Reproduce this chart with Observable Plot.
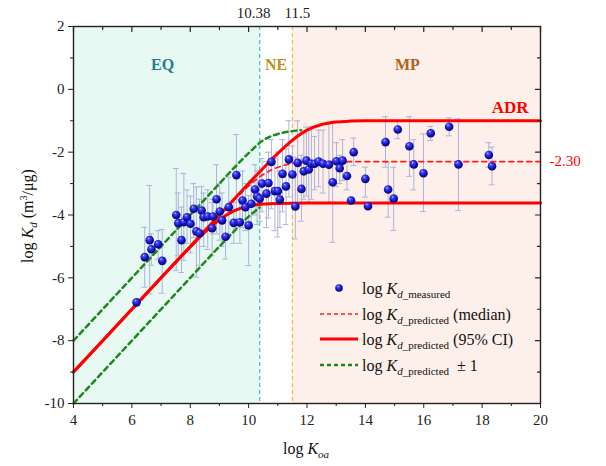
<!DOCTYPE html>
<html><head><meta charset="utf-8">
<script src="https://cdn.jsdelivr.net/npm/d3@7"></script>
<script src="https://cdn.jsdelivr.net/npm/@observablehq/plot@0.6"></script>
<style>
html,body{margin:0;padding:0;background:#fff;}
#chart{width:606px;height:466px;}
#chart svg, #chart svg text { font-family: "Liberation Serif", "DejaVu Serif", serif; }
</style></head><body><div id="chart"></div>
<script>
// ---- measured data (log Koa, log Kd measured, error bar low/high) ----
const koa = [
  6.16,6.44,6.61,6.67,6.90,7.04,7.52,7.59,7.70,7.78,
  7.89,8.01,8.12,8.21,8.32,8.39,8.46,8.60,8.75,8.78,
  8.90,9.01,9.09,9.21,9.32,9.49,9.58,9.70,9.79,9.89,
  10.00,10.09,10.22,10.29,10.38,10.46,10.61,10.68,10.78,10.90,
  11.00,11.07,11.16,11.28,11.38,11.50,11.60,11.68,11.81,11.89,
  11.98,12.06,12.15,12.26,12.40,12.55,12.75,12.88,13.01,13.12,
  13.22,13.37,13.51,13.60,14.00,14.09,14.69,14.78,14.97,15.11,
  15.51,15.66,15.99,16.24,16.87,17.19,18.23,18.34];
const kdMeasured = [
  -6.78,-5.34,-4.80,-5.09,-4.93,-5.46,-4.00,-4.26,-4.80,-4.23,
  -4.07,-4.28,-3.80,-4.52,-4.58,-3.86,-4.07,-4.05,-4.42,-4.05,
  -3.50,-3.89,-4.17,-4.69,-3.75,-4.25,-2.73,-4.23,-3.54,-3.75,
  -4.33,-3.64,-3.19,-3.41,-3.48,-3.00,-3.32,-2.98,-2.31,-3.24,
  -3.24,-3.51,-2.69,-3.09,-2.23,-2.71,-3.73,-2.34,-3.17,-2.61,
  -2.27,-2.55,-2.37,-2.37,-2.30,-2.37,-2.40,-2.96,-2.29,-2.51,
  -2.27,-2.76,-3.54,-2.00,-2.85,-3.72,-1.68,-3.19,-3.48,-1.28,
  -1.81,-2.39,-2.67,-1.40,-1.19,-2.39,-2.09,-2.45];
const kdLow = [
  null,-6.30,-6.51,-5.60,-5.40,-6.49,-5.77,-5.30,-5.83,-5.45,
  -4.90,-5.20,-4.72,-5.98,-5.60,-4.60,-5.00,-5.10,-5.30,-4.60,
  -4.60,-4.80,-5.00,-5.40,-4.70,-4.90,-4.39,-4.90,-4.40,-4.50,
  -5.61,-4.40,-4.00,-4.30,-4.20,-3.90,-4.40,-4.10,-3.80,-4.50,
  -4.70,-4.40,-3.90,-4.30,-3.43,-3.60,-4.76,-3.70,-4.20,-3.50,
  -3.40,-3.60,-3.50,-3.20,-3.10,-3.30,-3.60,-4.87,-3.10,-3.00,
  -2.90,-3.20,null,-2.43,-3.43,null,-2.48,-4.07,-4.49,-1.57,
  -2.77,-3.20,-3.89,-1.63,-1.48,-3.86,-2.48,-3.04];
const kdHigh = [
  null,-4.39,-3.06,-4.60,-4.50,-4.46,-2.52,-3.30,-3.75,-2.68,
  -3.20,-3.40,-3.00,-3.11,-3.50,-3.10,-3.30,-3.20,-3.60,-3.50,
  -2.40,-3.00,-3.30,-4.00,-2.80,-3.60,-1.44,-3.50,-2.60,-3.00,
  -3.38,-2.90,-2.40,-2.60,-2.70,-2.20,-2.30,-2.00,-1.60,-2.20,
  -2.00,-2.60,-1.60,-1.90,-1.00,-1.80,-2.16,-1.00,-2.10,-1.40,
  -1.20,-1.30,-1.20,-1.50,-1.30,-1.30,-1.10,-1.05,-1.70,-2.10,
  -1.60,-2.30,null,-1.55,-2.48,null,-0.87,-2.32,-2.48,-1.01,
  -0.87,-1.60,-1.42,-1.18,-0.91,-0.94,-1.70,-1.84];

// ---- predicted curves ----
const ciUpperX = [4,6,8,9,9.5,10,10.5,11,11.5,12,12.5,13,13.5,14,20];
const ciUpperY = [-9.0,-7.0,-5.0,-4.0,-3.5,-3.0,-2.51,-2.04,-1.62,-1.30,-1.12,-1.04,-1.01,-1.0,-1.0];
const ciLowerX = [4,6,8,8.5,9,9.5,10,10.5,11,12,20];
const ciLowerY = [-9.0,-7.0,-5.02,-4.55,-4.15,-3.87,-3.71,-3.65,-3.63,-3.62,-3.62];
const medianX = [4,8,9,9.5,10,10.5,11,11.5,12,13,20];
const medianY = [-9.0,-5.0,-4.01,-3.53,-3.08,-2.71,-2.48,-2.36,-2.32,-2.30,-2.30];
const plusOneX = [4,8,9,9.5,10,10.5,11,11.5,11.8];
const plusOneY = [-8.0,-4.0,-3.0,-2.50,-2.03,-1.62,-1.42,-1.33,-1.30];
const minusOneX = [4,8,9,9.5,10,10.38];
const minusOneY = [-10.0,-6.0,-5.0,-4.52,-4.05,-3.76];
const medianPlateau = -2.30;
const adrPlateau = -1.0;

// ---- regions / ticks ----
const regionNames = ["EQ","NE","MP"];
const regionStart = [4, 10.38, 11.5];
const regionEnd = [10.38, 11.5, 20];
const xMajor = [4,6,8,10,12,14,16,18,20];
const xMinor = [5,7,9,11,13,15,17,19];
const yMajor = [-10,-8,-6,-4,-2,0,2];
const yMinor = [-9,-7,-5,-3,-1,1];
const topLabels = [10.38, 11.5];

const meas = koa.map((x,i)=>({x, y: kdMeasured[i], lo: kdLow[i], hi: kdHigh[i]}));
const bars = meas.filter(d => d.lo != null);
const line = (xs, ys) => xs.map((x,i)=>({x, y: ys[i]}));
const regions = regionNames.map((n,i)=>({n, x1: regionStart[i], x2: regionEnd[i], mid: (regionStart[i]+regionEnd[i])/2}));

const tickShape = {draw(ctx, l){ ctx.moveTo(0,0); ctx.lineTo(0,-l); }};
const ink = "#222";
const capHalf = 0.1;
const ff = "'Liberation Serif','DejaVu Serif',serif";

const plot = Plot.plot({
  width: 606, height: 466,
  marginLeft: 73, marginRight: 66, marginTop: 26, marginBottom: 63,
  x: {domain: [4,20], label: null},
  y: {domain: [-10,2], label: null},
  color: {domain: regionNames, range: ["#e8f8f3","#ffffff","#fdefe9"]},
  style: {fontFamily: ff, fontSize: "15px", color: ink, background: "#fff"},
  marks: [
    Plot.rect(regions, {x1: "x1", x2: "x2", y1: -10, y2: 2, fill: "n"}),
    Plot.ruleX([regionStart[1]], {stroke: "#3cc8c8", strokeWidth: 1.3, strokeDasharray: "4,3"}),
    Plot.ruleX([regionStart[2]], {stroke: "#f2c444", strokeWidth: 1.3, strokeDasharray: "4,3"}),
    Plot.text(regions.filter(d=>d.n==="EQ"), {x: "mid", text: "n", frameAnchor: "top", dy: 32, dx: -4, fill: "#1f7f8f", fontWeight: "bold", fontSize: 16}),
    Plot.text(regions.filter(d=>d.n==="NE"), {x: "mid", text: "n", frameAnchor: "top", dy: 32, fill: "#c0901c", fontWeight: "bold", fontSize: 16}),
    Plot.text(regions.filter(d=>d.n==="MP"), {x: "mid", text: "n", frameAnchor: "top", dy: 32, dx: -9, fill: "#b0621c", fontWeight: "bold", fontSize: 16}),
    // error bars
    Plot.ruleX(bars, {x: "x", y1: "lo", y2: "hi", stroke: "#aeb2dc", strokeWidth: 1}),
    Plot.ruleY(bars, {y: "lo", x1: d=>d.x-capHalf, x2: d=>d.x+capHalf, stroke: "#aeb2dc", strokeWidth: 1}),
    Plot.ruleY(bars, {y: "hi", x1: d=>d.x-capHalf, x2: d=>d.x+capHalf, stroke: "#aeb2dc", strokeWidth: 1}),
    // curves
    Plot.line(line(plusOneX, plusOneY), {x: "x", y: "y", stroke: "#1a8a1a", strokeWidth: 2.5, strokeDasharray: "5,4", curve: "monotone-x"}),
    Plot.line(line(minusOneX, minusOneY), {x: "x", y: "y", stroke: "#1a8a1a", strokeWidth: 2.5, strokeDasharray: "5,4", curve: "monotone-x"}),
    Plot.line(line(medianX, medianY), {x: "x", y: "y", stroke: "#ff1a1a", strokeWidth: 1.6, strokeDasharray: "5,4", curve: "monotone-x"}),
    Plot.line(line(ciUpperX, ciUpperY), {x: "x", y: "y", stroke: "#ff0000", strokeWidth: 3, curve: "monotone-x"}),
    Plot.line(line(ciLowerX, ciLowerY), {x: "x", y: "y", stroke: "#ff0000", strokeWidth: 3, curve: "monotone-x"}),
    // points
    Plot.dot(meas, {x: "x", y: "y", r: 4.3, fill: "url(#ball)", stroke: "none"}),
    // annotations
    Plot.text(["ADR"], {x: regionEnd[2], y: adrPlateau, dx: -12, dy: -13, textAnchor: "end", fill: "#ff0000", fontWeight: "bold", fontSize: 17}),
    Plot.text([medianPlateau], {x: regionEnd[2], y: d=>d, text: d=>d.toFixed(2), dx: 9, textAnchor: "start", fill: "#ff0000", fontSize: 15, clip: false}),
    Plot.frame({stroke: ink, strokeWidth: 1.4}),
    // axes
    Plot.axisY(yMajor, {anchor: "left", tickSize: 5, tickPadding: 4, tickFormat: d=>String(d), label: null, stroke: ink, fill: ink}),
    Plot.axisY(yMinor, {anchor: "left", tickSize: 3, tickFormat: ()=>"", label: null, stroke: ink}),
    Plot.axisX(xMajor, {anchor: "bottom", tickSize: 5, tickPadding: 6, tickFormat: d=>String(d), label: null, stroke: ink, fill: ink}),
    Plot.axisX(xMinor, {anchor: "bottom", tickSize: 3, tickFormat: ()=>"", label: null, stroke: ink}),
    Plot.vector(xMajor, {x: d=>d, frameAnchor: "top", rotate: 180, length: 5, anchor: "start", shape: tickShape, stroke: ink, strokeWidth: 1.2}),
    Plot.vector(xMinor, {x: d=>d, frameAnchor: "top", rotate: 180, length: 3, anchor: "start", shape: tickShape, stroke: ink, strokeWidth: 1.2}),
    Plot.vector(yMajor, {y: d=>d, frameAnchor: "right", rotate: -90, length: 5, anchor: "start", shape: tickShape, stroke: ink, strokeWidth: 1.2}),
    Plot.vector(yMinor, {y: d=>d, frameAnchor: "right", rotate: -90, length: 3, anchor: "start", shape: tickShape, stroke: ink, strokeWidth: 1.2}),
    Plot.text([topLabels[0]], {x: d=>d, text: d=>String(d), frameAnchor: "top", dy: -9, dx: -6, lineAnchor: "bottom", fill: ink}),
    Plot.text([topLabels[1]], {x: d=>d, text: d=>String(d), frameAnchor: "top", dy: -9, dx: 5, lineAnchor: "bottom", fill: ink})
  ]
});

document.getElementById("chart").appendChild(plot);

const svg = d3.select(plot);
const defs = svg.insert("defs", ":first-child");
const grad = defs.append("radialGradient").attr("id","ball").attr("cx","45%").attr("cy","40%").attr("r","60%").attr("fx","35%").attr("fy","28%");
[["0%","#c8ccff"],["22%","#4a4aff"],["65%","#1414c0"],["100%","#04046a"]].forEach(([o,c]) => grad.append("stop").attr("offset",o).attr("stop-color",c));

function rich(textSel, parts) {
  parts.forEach(p => {
    const t = textSel.append("tspan").text(p.t);
    if (p.i) t.attr("font-style","italic");
    if (p.s) t.attr("font-size", p.s);
    if (p.dy) t.attr("dy", p.dy);
  });
}
const g = svg.append("g").attr("font-family", ff).attr("fill", "#111");

// axis titles
const yt = g.append("text").attr("transform","translate(33,216) rotate(-90)").attr("text-anchor","middle").attr("font-size",16);
rich(yt, [{t:"log "},{t:"K",i:1},{t:"d",i:1,s:11,dy:4},{t:" (m",dy:-4},{t:"3",s:10,dy:-6},{t:"/μg)",dy:6}]);
const xt = g.append("text").attr("x",306).attr("y",454).attr("text-anchor","middle").attr("font-size",16);
rich(xt, [{t:"log "},{t:"K",i:1},{t:"oa",i:1,s:11,dy:4}]);

// legend
const lg = g.append("g");
lg.append("circle").attr("cx",339).attr("cy",288).attr("r",3.8).attr("fill","url(#ball)");
lg.append("line").attr("x1",320).attr("x2",358).attr("y1",314).attr("y2",314).attr("stroke","#ff1a1a").attr("stroke-width",1.6).attr("stroke-dasharray","4,3");
lg.append("line").attr("x1",320).attr("x2",358).attr("y1",339).attr("y2",339).attr("stroke","#ff0000").attr("stroke-width",3);
lg.append("line").attr("x1",320).attr("x2",358).attr("y1",365).attr("y2",365).attr("stroke","#1a8a1a").attr("stroke-width",2.5).attr("stroke-dasharray","4,3");
const rows = [
  [{t:"log "},{t:"K",i:1},{t:"d",i:1,s:11,dy:4},{t:"_measured",s:11}],
  [{t:"log "},{t:"K",i:1},{t:"d",i:1,s:11,dy:4},{t:"_predicted",s:11},{t:" (median)",dy:-4}],
  [{t:"log "},{t:"K",i:1},{t:"d",i:1,s:11,dy:4},{t:"_predicted",s:11},{t:" (95% CI)",dy:-4}],
  [{t:"log "},{t:"K",i:1},{t:"d",i:1,s:11,dy:4},{t:"_predicted",s:11},{t:"  ± 1",dy:-4}]
];
const rowY = [294, 320, 345, 371];
rows.forEach((parts, i) => {
  const t = lg.append("text").attr("x",362).attr("y",rowY[i]).attr("font-size",16).attr("text-anchor","start").style("white-space","pre");
  rich(t, parts);
});
</script>
</body></html>
